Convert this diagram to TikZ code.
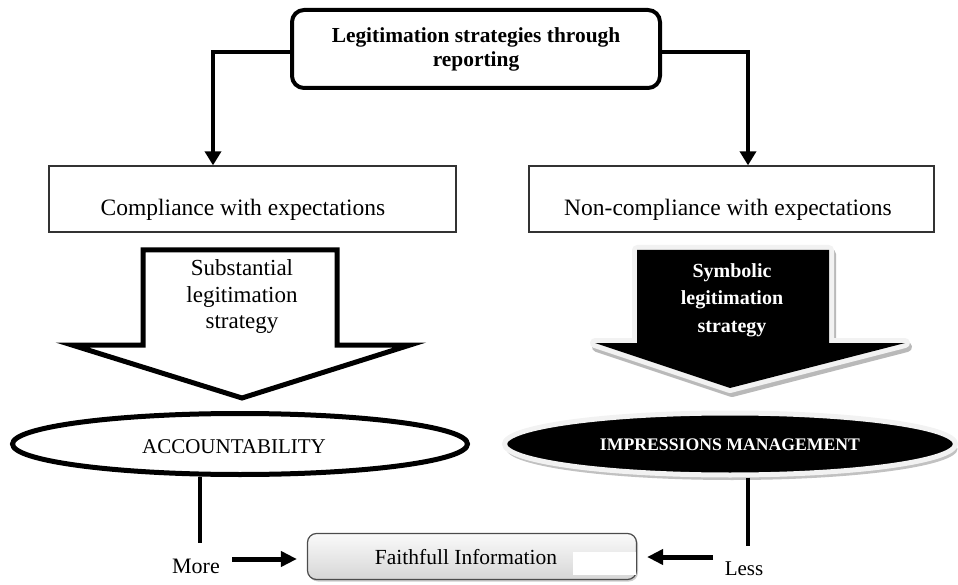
\documentclass[tikz,border=0pt]{standalone}
\usepackage{fontspec}
\setmainfont{Liberation Serif}
\usetikzlibrary{arrows.meta,shapes.geometric,shadows,calc}
\begin{document}
\begin{tikzpicture}[x=1pt,y=-1pt,
  conn/.style={line width=4pt, -{Triangle[length=14pt,width=16pt]}},
  fat/.style={line width=5pt, -{Triangle[length=16pt,width=15pt]}},
  plainbox/.style={draw=black!80, line width=1.3pt, minimum height=66pt, inner sep=0pt},
  lbl/.style={font=\fontsize{23.5}{27}\selectfont},
  stem/.style={line width=4pt},
]
\useasboundingbox (0,0) rectangle (958,585);

% top box
\node[draw, line width=4pt, rounded corners=12pt, minimum width=368pt, minimum height=78pt,
      align=center, inner sep=0pt, font=\bfseries\fontsize{21.4}{24}\selectfont]
  (top) at (476,49) {Legitimation strategies through\\reporting};

% expectation boxes
\node[plainbox, minimum width=407pt] (comp) at (252.5,199) {};
\node[plainbox, minimum width=405pt] (ncomp) at (731.5,199) {};
\node[lbl] (compT) at (243,210) {Compliance with expectations};
\node[lbl] (ncompT) at (728,210) {Non-compliance with expectations};

% connectors from top box
\coordinate (lt) at (213,52);
\coordinate (rt) at (748,52);
\draw[conn] (top.west |- lt) -| (comp.north -| lt);
\draw[conn] (top.east |- rt) -| (ncomp.north -| rt);

% left hollow arrow
\draw[line width=5pt, fill=white, line join=miter]
  (143,250) -- (337,250) -- (337,345) -- (410,345) -- (242,398) -- (72,345) -- (143,345) -- cycle;
\node[align=center, font=\fontsize{23}{26.5}\selectfont] (subT) at (242,297)
  {Substantial\\legitimation\\strategy};

% right black arrow: shadow, rim, fill
\path[shift={(2,4)}, fill=gray!55, draw=gray!55, line width=10pt, line join=round]
  (637,250) -- (829,250) -- (829,343) -- (905,343) -- (730,388) -- (595,343) -- (637,343) -- cycle;
\path[fill=black, draw=gray!10, line width=10pt, line join=round]
  (637,250) -- (829,250) -- (829,343) -- (905,343) -- (730,388) -- (595,343) -- (637,343) -- cycle;
\fill[black]
  (637,250) -- (829,250) -- (829,343) -- (905,343) -- (730,388) -- (595,343) -- (637,343) -- cycle;
\node[align=center, text=white, font=\bfseries\fontsize{20}{27.5}\selectfont] (symT) at (732,300)
  {Symbolic\\legitimation\\strategy};

% ellipses
\node[ellipse, draw, line width=5pt, fill=white, minimum width=455pt, minimum height=61pt, inner sep=0pt]
  (acc) at (240,444) {};
\node[font=\fontsize{21}{24}\selectfont] (accT) at (234,447) {ACCOUNTABILITY};

\node[ellipse, fill=black, draw=gray!10, line width=5pt, minimum width=451pt, minimum height=62pt, inner sep=0pt,
      drop shadow={shadow xshift=2pt, shadow yshift=-5pt, fill=gray!70, opacity=0.7}]
  (imp) at (730,444) {};
\node[text=white, font=\bfseries\fontsize{17.7}{20}\selectfont] (impT) at (730,445) {IMPRESSIONS MANAGEMENT};

% bottom box
\node[rounded corners=9pt, draw=black!70, line width=1.2pt, top color=gray!4, bottom color=gray!32,
      minimum width=329pt, minimum height=46pt, inner sep=0pt,
      drop shadow={shadow xshift=1.5pt, shadow yshift=-2pt, opacity=0.4}]
  (fi) at (472,556.5) {};
\fill[white] (573,552) rectangle (636,575);
\node[font=\fontsize{21.5}{24}\selectfont] (fiT) at (466,557) {Faithfull Information};

% More / Less
\node[font=\fontsize{22}{24}\selectfont] (more) at (196,566) {More};
\node[font=\fontsize{21}{24}\selectfont] (less) at (744,569) {Less};
\coordinate (mtop) at (200,543);
\coordinate (ltop) at (748,546);
\draw[stem] (acc.south -| mtop) -- (mtop);
\draw[stem] (imp.south -| ltop) -- (ltop);
\coordinate (ma) at (232,559);
\coordinate (la) at (713,557);
\draw[fat] (ma) -- ($(fi.west |- ma)+(-10,0)$);
\draw[fat] (la) -- ($(fi.east |- la)+(10,0)$);
\end{tikzpicture}
\end{document}
